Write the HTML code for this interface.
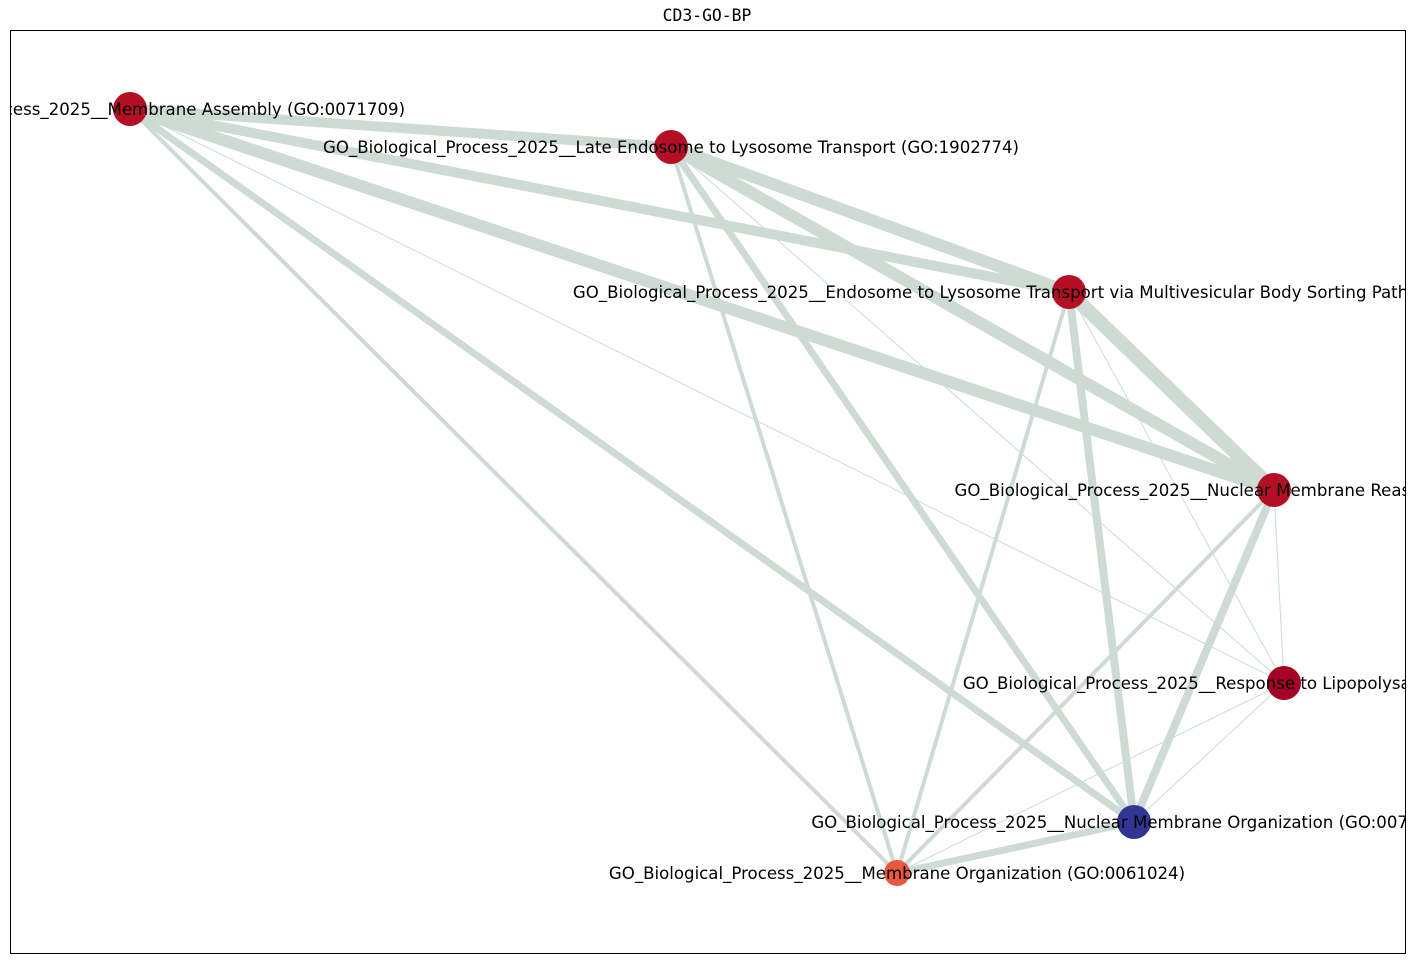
<!DOCTYPE html>
<html><head><meta charset="utf-8"><style>
html,body{margin:0;padding:0;background:#fff;}
svg{display:block;}
</style></head><body>
<svg width="1415" height="964" viewBox="0 0 1415 964" xmlns="http://www.w3.org/2000/svg">
<defs><clipPath id="ax"><rect x="10" y="30" width="1395" height="923"/></clipPath></defs>
<text x="707" y="21" text-anchor="middle" font-family="'DejaVu Sans Mono','Liberation Mono',monospace" font-size="16.4">CD3-GO-BP</text>
<g clip-path="url(#ax)" stroke="#cddbd4" stroke-linecap="butt" fill="none">
<line x1="130" y1="109" x2="1284" y2="683" stroke-width="1"/>
<line x1="671" y1="147" x2="1284" y2="683" stroke-width="1"/>
<line x1="1069" y1="292" x2="1284" y2="683" stroke-width="1"/>
<line x1="1274" y1="490" x2="1284" y2="683" stroke-width="1"/>
<line x1="1284" y1="683" x2="1134" y2="822" stroke-width="1"/>
<line x1="1284" y1="683" x2="897" y2="873" stroke-width="1"/>
<line x1="130" y1="109" x2="897" y2="873" stroke-width="4"/>
<line x1="671" y1="147" x2="897" y2="873" stroke-width="4"/>
<line x1="1069" y1="292" x2="897" y2="873" stroke-width="4"/>
<line x1="1274" y1="490" x2="897" y2="873" stroke-width="4"/>
<line x1="130" y1="109" x2="1134" y2="822" stroke-width="7"/>
<line x1="671" y1="147" x2="1134" y2="822" stroke-width="7"/>
<line x1="1069" y1="292" x2="1134" y2="822" stroke-width="8"/>
<line x1="1274" y1="490" x2="1134" y2="822" stroke-width="8"/>
<line x1="1134" y1="822" x2="897" y2="873" stroke-width="7"/>
<line x1="130" y1="109" x2="671" y2="147" stroke-width="10"/>
<line x1="130" y1="109" x2="1069" y2="292" stroke-width="10"/>
<line x1="130" y1="109" x2="1274" y2="490" stroke-width="12"/>
<line x1="671" y1="147" x2="1069" y2="292" stroke-width="12"/>
<line x1="671" y1="147" x2="1274" y2="490" stroke-width="12"/>
<line x1="1069" y1="292" x2="1274" y2="490" stroke-width="14"/>
</g>
<g clip-path="url(#ax)" stroke="none">
<ellipse cx="130" cy="109" rx="17" ry="17" fill="#b40f25"/>
<ellipse cx="671" cy="147" rx="17" ry="17" fill="#b40f25"/>
<ellipse cx="1069" cy="292" rx="17" ry="17" fill="#b40f25"/>
<ellipse cx="1274" cy="490" rx="17" ry="17" fill="#b40f25"/>
<ellipse cx="1284" cy="683" rx="17" ry="17" fill="#a50026"/>
<ellipse cx="1134" cy="822" rx="17" ry="17" fill="#313695"/>
<ellipse cx="897" cy="873" rx="13" ry="13" fill="#e9573f"/>
</g>
<g clip-path="url(#ax)" font-family="'DejaVu Sans','Liberation Sans',sans-serif" font-size="16.6" fill="#000" text-anchor="middle">
<text x="130" y="115">GO_Biological_Process_2025__Membrane Assembly (GO:0071709)</text>
<text x="671" y="153">GO_Biological_Process_2025__Late Endosome to Lysosome Transport (GO:1902774)</text>
<text x="1069" y="298">GO_Biological_Process_2025__Endosome to Lysosome Transport via Multivesicular Body Sorting Pathway (GO:0032510)</text>
<text x="1274" y="496">GO_Biological_Process_2025__Nuclear Membrane Reassembly (GO:0031468)</text>
<text x="1284" y="689">GO_Biological_Process_2025__Response to Lipopolysaccharide (GO:0032496)</text>
<text x="1134" y="828">GO_Biological_Process_2025__Nuclear Membrane Organization (GO:0071763)</text>
<text x="897" y="879">GO_Biological_Process_2025__Membrane Organization (GO:0061024)</text>
</g>
<rect x="10.5" y="30.5" width="1395" height="923" fill="none" stroke="#000" stroke-width="1"/>
</svg>
</body></html>
